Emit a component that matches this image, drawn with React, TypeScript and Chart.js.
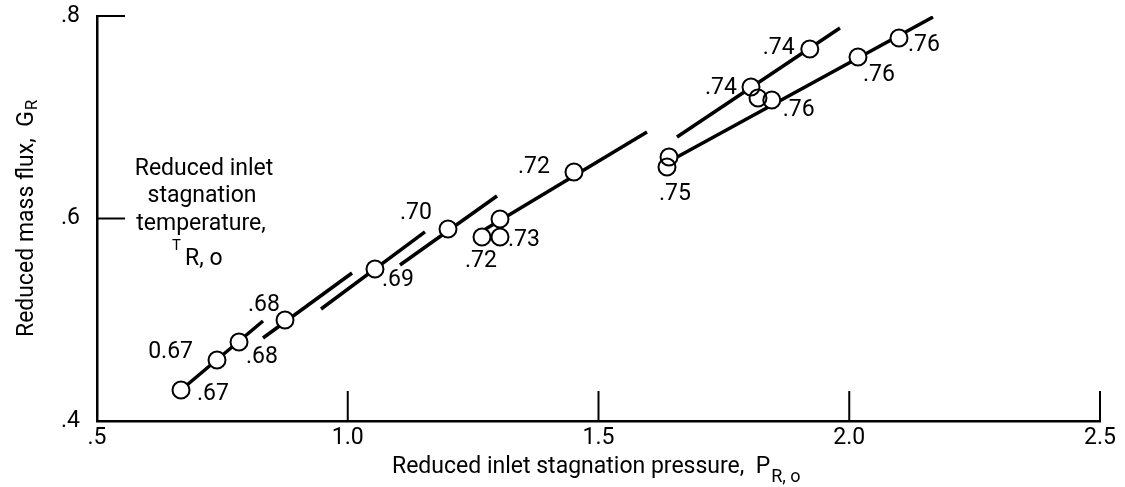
import React, { useEffect, useRef } from 'react';
import { Chart, registerables } from 'chart.js';

Chart.register(...registerables);

const FONT = 'Roboto, "Liberation Sans", "DejaVu Sans", sans-serif';
const FS = 23;

// ---- data points (reduced inlet stagnation pressure, reduced mass flux) ----
const pressure = [0.6675, 0.7393, 0.7832, 0.8749, 1.0543, 1.1999, 1.2677, 1.3036, 1.3036, 1.4511, 1.6406, 1.6366, 1.8041, 1.818, 1.8455, 1.9213, 2.0174, 2.0992];
const massFlux = [0.4306, 0.4602, 0.478, 0.4998, 0.5501, 0.5896, 0.5817, 0.5995, 0.5817, 0.6459, 0.6607, 0.6509, 0.7299, 0.719, 0.717, 0.7674, 0.7595, 0.7783];
const temperatureLabels = ['.67', '0.67', '.68', '.68', '.69', '.70', '.72', '', '.73', '.72', '', '.75', '.74', '', '.76', '.74', '.76', '.76'];

// ---- constant-temperature line segments ----
const segStartP = [0.6675, 0.831, 0.9467, 1.1042, 1.2717, 1.6565, 1.6386];
const segStartG = [0.4306, 0.482, 0.5106, 0.5541, 0.5886, 0.6805, 0.6558];
const segEndP = [0.831, 1.0085, 1.154, 1.2976, 1.5967, 1.9815, 2.167];
const segEndG = [0.4988, 0.5462, 0.5867, 0.6222, 0.6854, 0.7881, 0.799];

// ---- axes ----
const xTickValues = [0.5, 1.0, 1.5, 2.0, 2.5];
const xTickLabels = ['.5', '1.0', '1.5', '2.0', '2.5'];
const yTickValues = [0.4, 0.6, 0.8];
const yTickLabels = ['.4', '.6', '.8'];
const xInnerTicks = [1.0, 1.5, 2.0, 2.5];
const yInnerTicks = [0.6, 0.8];

// label placement (pixel offsets from the marker centre): [dx, dy, align]
const labelPlacement: [number, number, CanvasTextAlign][] = [
  [16, 2, 'left'], [-24, -10, 'right'], [7, 12.5, 'left'], [-37, -17.5, 'left'],
  [7, 9, 'left'], [-48, -18.5, 'left'], [-17, 22, 'left'], [0, 0, 'left'],
  [8, 0.5, 'left'], [-56, -7, 'left'], [0, 0, 'left'], [-8, 24.5, 'left'],
  [-46, -1.5, 'left'], [0, 0, 'left'], [11, 8, 'left'], [-47, -3.5, 'left'],
  [5, 15.5, 'left'], [9, 4.5, 'left'],
];

const annotPlugin = {
  id: 'annot',
  afterDraw(chart: any) {
    const { ctx, chartArea, scales } = chart;
    const xs = scales.x;
    const ys = scales.y;
    ctx.save();
    ctx.strokeStyle = '#000';
    ctx.fillStyle = '#000';
    ctx.lineWidth = 2;
    ctx.lineCap = 'butt';
    // inward tick marks
    xInnerTicks.forEach((v) => {
      const px = xs.getPixelForValue(v);
      ctx.beginPath();
      ctx.moveTo(px, chartArea.bottom);
      ctx.lineTo(px, chartArea.bottom - 30);
      ctx.stroke();
    });
    yInnerTicks.forEach((v) => {
      const py = ys.getPixelForValue(v);
      ctx.beginPath();
      ctx.moveTo(chartArea.left, py);
      ctx.lineTo(chartArea.left + 28, py);
      ctx.stroke();
    });

    // point labels
    ctx.font = `${FS}px ${FONT}`;
    ctx.textBaseline = 'alphabetic';
    temperatureLabels.forEach((t, i) => {
      if (!t) return;
      const [dx, dy, al] = labelPlacement[i];
      const px = xs.getPixelForValue(pressure[i]);
      const py = ys.getPixelForValue(massFlux[i]);
      ctx.textAlign = al;
      ctx.fillText(t, px + dx, py + dy + 8.2);
    });

    // note on the temperature labels
    ctx.textAlign = 'center';
    ctx.font = `${FS}px ${FONT}`;
    ctx.fillText('Reduced inlet', 204, 175);
    ctx.fillText('stagnation', 202, 202);
    ctx.fillText('temperature,', 201, 230);
    ctx.textAlign = 'left';
    ctx.font = `15px ${FONT}`;
    ctx.fillText('T', 172, 250);
    ctx.font = `${FS}px ${FONT}`;
    ctx.fillText('R, o', 185, 265);

    // x-axis title
    ctx.textAlign = 'left';
    ctx.font = `${FS}px ${FONT}`;
    const xt = 'Reduced inlet stagnation pressure,  P';
    ctx.fillText(xt, 392, 473);
    const xw = ctx.measureText(xt).width;
    ctx.font = `18px ${FONT}`;
    ctx.fillText('R, o', 392 + xw + 1, 482);

    // y-axis title
    ctx.save();
    ctx.translate(33, 337);
    ctx.rotate(-Math.PI / 2);
    ctx.font = `${FS}px ${FONT}`;
    const yt = 'Reduced mass flux,  G';
    ctx.fillText(yt, 0, 0);
    const yw = ctx.measureText(yt).width;
    ctx.font = `17px ${FONT}`;
    ctx.fillText('R', yw + 1, 4);
    ctx.restore();

    ctx.restore();
  },
};

export default function App() {
  const ref = useRef<HTMLCanvasElement | null>(null);

  useEffect(() => {
    const canvas = ref.current;
    if (!canvas) return;
    const points = pressure.map((p, i) => ({ x: p, y: massFlux[i] }));
    const segments = segStartP.map((p, i) => ({
      type: 'line' as const,
      data: [
        { x: p, y: segStartG[i] },
        { x: segEndP[i], y: segEndG[i] },
      ],
      borderColor: '#000',
      borderWidth: 3.5,
      borderCapStyle: 'butt' as const,
      pointRadius: 0,
      showLine: true,
      fill: false,
      order: 2,
    }));

    const chart = new Chart(canvas, {
      type: 'scatter',
      data: {
        datasets: [
          ...segments,
          {
            data: points,
            pointRadius: 8.5,
            pointBackgroundColor: '#fff',
            pointBorderWidth: 0,
            pointBorderColor: '#fff',
            showLine: false,
            order: 1,
          },
          {
            data: points,
            pointRadius: 8.5,
            pointBackgroundColor: 'rgba(0,0,0,0)',
            pointBorderColor: '#000',
            pointBorderWidth: 2,
            showLine: false,
            order: 0,
          },
        ] as any,
      },
      options: {
        animation: false,
        responsive: false,
        devicePixelRatio: 1,
        layout: { padding: { top: 16, right: 25, left: 0, bottom: 0 } },
        plugins: { legend: { display: false }, tooltip: { enabled: false } },
        events: [],
        scales: {
          x: {
            type: 'linear',
            min: 0.5,
            max: 2.5,
            afterFit: (s: any) => { s.height = 66; s.paddingLeft = 0; s.paddingRight = 0; },
            afterBuildTicks: (s: any) => { s.ticks = xTickValues.map((v) => ({ value: v })); },
            ticks: {
              callback: (v: any) => xTickLabels[xTickValues.findIndex((t) => Math.abs(t - Number(v)) < 1e-6)] ?? '',
              font: { family: FONT, size: FS },
              color: '#000',
              padding: 3,
              maxRotation: 0,
            },
            grid: { display: false, drawTicks: false },
            border: { display: true, color: '#000', width: 2.5 },
          },
          y: {
            type: 'linear',
            min: 0.4,
            max: 0.8,
            afterFit: (s: any) => { s.width = 97; s.paddingTop = 0; s.paddingBottom = 0; },
            afterBuildTicks: (s: any) => { s.ticks = yTickValues.map((v) => ({ value: v })); },
            ticks: {
              callback: (v: any) => yTickLabels[yTickValues.findIndex((t) => Math.abs(t - Number(v)) < 1e-6)] ?? '',
              font: { family: FONT, size: FS },
              color: '#000',
              padding: 17,
            },
            grid: { display: false, drawTicks: false },
            border: { display: true, color: '#000', width: 2.5 },
          },
        },
      },
      plugins: [annotPlugin],
    });
    return () => chart.destroy();
  }, []);

  return (
    <div style={{ position: 'fixed', left: 0, top: 0, width: 1125, height: 487, background: '#fff' }}>
      <canvas ref={ref} width={1125} height={487} style={{ display: 'block', width: 1125, height: 487 }} />
    </div>
  );
}
